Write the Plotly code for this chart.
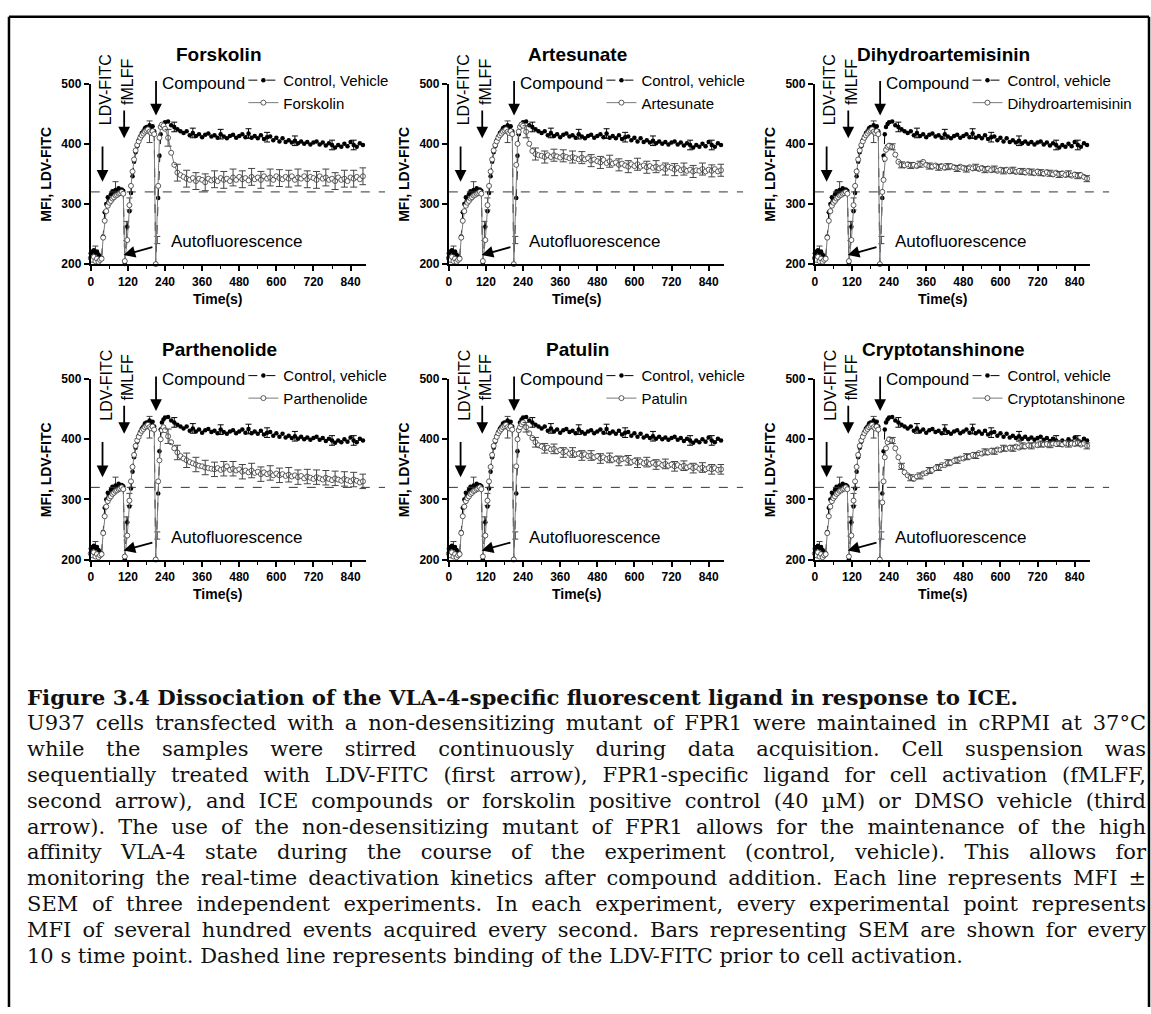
import json
import plotly.graph_objects as go

W, H = 1151, 1014
SANS = "Liberation Sans, Arial, sans-serif"
SERIF = "DejaVu Serif, serif"

# ---------------- data ----------------
compounds = ["Forskolin", "Artesunate", "Dihydroartemisinin",
             "Parthenolide", "Patulin", "Cryptotanshinone"]
control_labels = ["Control, Vehicle", "Control, vehicle", "Control, vehicle",
                  "Control, vehicle", "Control, vehicle", "Control, vehicle"]

pre_t = [0, 5, 10, 15, 20, 25, 30, 35, 40, 45, 50, 55, 60, 65, 70, 75, 80, 85, 90, 95, 100, 105,
         110, 118, 125, 130, 135, 140, 145, 150, 155, 160, 165, 170, 175, 180, 185, 190, 195, 200, 205, 210]
post_t = [218, 222, 226, 230, 235,
          240, 250, 260, 270, 280, 290, 300, 310, 320, 330,
          340, 350, 360, 370, 380, 390, 400, 410, 420, 430,
          440, 450, 460, 470, 480, 490, 500, 510, 520, 530,
          540, 550, 560, 570, 580, 590, 600, 610, 620, 630,
          640, 650, 660, 670, 680, 690, 700, 710, 720, 730,
          740, 750, 760, 770, 780, 790, 800, 810, 820, 830,
          840, 850, 860, 870, 880]

control_pre = [218, 221, 223, 219, 221, 216, 213, 210,
               246, 286, 300, 311, 308, 316, 321, 318, 323, 320, 326, 321, 324, 322,
               200, 262, 288, 318, 346, 370, 386, 396, 406, 412, 418, 421, 426, 428, 424, 431, 426, 429, 421, 200]
control_post = [310, 380, 416, 428, 433,
                436, 437, 431, 428, 424, 421, 418, 421, 414, 418,
                413, 416, 411, 415, 417, 412, 414, 410, 416, 412,
                409, 413, 415, 410, 413, 416, 411, 417, 410, 413,
                409, 414, 408, 411, 412, 406, 410, 404, 409, 403,
                406, 402, 405, 401, 404, 400, 403, 399, 402, 404,
                399, 402, 397, 401, 398, 394, 398, 395, 400, 396,
                403, 398, 395, 401, 398]

treat_pre = [210, 207, 212, 205, 209, 204, 207, 209,
             244, 272, 288, 297, 302, 305, 309, 311, 314, 315, 317, 318, 320, 317,
             205, 240, 298, 330, 354, 374, 389, 398, 404, 410, 414, 417, 420, 422, 424, 420, 418, 421, 416, 200]

forskolin_post = [330, 410, 428, 432, 430,
                  425, 410, 385, 365, 352, 348, 345, 342, 340, 343,
                  338, 342, 340, 336, 342, 339, 341, 338, 343, 340,
                  342, 338, 344, 340, 345, 341, 343, 339, 345, 341,
                  344, 340, 346, 342, 344, 340, 346, 343, 341, 345,
                  342, 346, 340, 344, 342, 346, 341, 345, 343, 340,
                  346, 342, 344, 340, 342, 338, 344, 340, 342, 338,
                  344, 342, 345, 341, 346]
artesunate_post = [365, 400, 420, 428, 432,
                   430, 420, 400, 388, 383, 381, 380, 378, 381, 378,
                   381, 379, 377, 380, 378, 376, 378, 376, 374, 377,
                   374, 376, 372, 374, 371, 369, 373, 368, 371, 367,
                   369, 365, 367, 364, 362, 366, 363, 366, 362, 364,
                   361, 363, 360, 362, 359, 361, 358, 362, 360, 357,
                   360, 356, 358, 355, 357, 354, 356, 355, 358, 354,
                   357, 355, 358, 354, 356]
dha_post = [320, 340, 375, 390, 395,
            397, 395, 382, 370, 365, 364, 366, 364, 365, 363,
            366, 370, 365, 363, 362, 364, 361, 363, 360, 362,
            363, 361, 359, 362, 360, 358, 361, 359, 361, 358,
            360, 357, 359, 356, 358, 355, 357, 355, 357, 354,
            356, 353, 355, 354, 352, 355, 353, 351, 354, 352,
            350, 353, 351, 349, 352, 349, 351, 348, 350, 347,
            349, 347, 348, 345, 342]
parthenolide_post = [330, 365, 400, 415, 420,
                     415, 405, 395, 385, 378, 372, 368, 365, 362, 360,
                     358, 356, 355, 353, 352, 351, 350, 352, 349, 351,
                     355, 349, 351, 348, 350, 346, 348, 345, 348, 344,
                     346, 342, 345, 342, 344, 340, 343, 340, 342, 339,
                     341, 338, 340, 337, 339, 335, 338, 336, 334, 337,
                     335, 333, 336, 334, 332, 335, 333, 331, 334, 332,
                     330, 333, 331, 328, 330]
patulin_post = [355, 400, 415, 420, 425,
                428, 420, 410, 402, 395, 390, 388, 385, 386, 383,
                384, 380, 382, 378, 380, 376, 378, 375, 376, 373,
                375, 372, 373, 370, 372, 368, 370, 367, 369, 366,
                368, 364, 367, 368, 365, 362, 364, 361, 363, 360,
                362, 359, 361, 358, 360, 357, 359, 356, 358, 355,
                357, 354, 356, 353, 355, 352, 354, 351, 353, 350,
                352, 350, 352, 349, 350]
crypto_post = [295, 330, 370, 385, 395,
               400, 398, 385, 370, 355, 345, 340, 336, 334, 338,
               339, 343, 344, 348, 349, 352, 353, 357, 357, 361,
               361, 364, 365, 368, 368, 371, 371, 374, 373, 377,
               376, 379, 378, 381, 380, 383, 382, 385, 384, 386,
               385, 388, 386, 389, 388, 390, 389, 391, 390, 392,
               391, 392, 391, 393, 392, 393, 391, 394, 392, 393,
               392, 394, 391, 393, 389]
treat_posts = [forskolin_post, artesunate_post, dha_post,
               parthenolide_post, patulin_post, crypto_post]

# SEM estimates (error bars every 30 s after compound)
treat_err_t = [250, 280, 310, 340, 370, 400, 430, 460, 490, 520, 550,
               580, 610, 640, 670, 700, 730, 760, 790, 820, 850, 880]
treat_sem = [14, 10, 5, 12, 8, 5]
control_err_t = [270, 330, 420, 510, 570, 660, 780, 850]
control_sem = [8, 8, 8, 8, 8, 8, 8, 8]
pre_err_t = [15, 80, 115, 125, 190, 215]
pre_err_y = [220, 325, 255, 300, 420, 240]
pre_err_s = [10, 12, 16, 10, 18, 6]

baseline_mfi = 320
x_ticks = [0, 120, 240, 360, 480, 600, 720, 840]
x_minor = [60, 180, 300, 420, 540, 660, 780]
y_ticks = [200, 300, 400, 500]

caption_title = "Figure 3.4 Dissociation of the VLA-4-specific fluorescent ligand in response to ICE."
caption_lines = [
    "U937 cells transfected with a non-desensitizing mutant of FPR1 were maintained in cRPMI at 37°C",
    "while the samples were stirred continuously during data acquisition. Cell suspension was",
    "sequentially treated with LDV-FITC (first arrow), FPR1-specific ligand for cell activation (fMLFF,",
    "second arrow), and ICE compounds or forskolin positive control (40 µM) or DMSO vehicle (third",
    "arrow). The use of the non-desensitizing mutant of FPR1 allows for the maintenance of the high",
    "affinity VLA-4 state during the course of the experiment (control, vehicle). This allows for",
    "monitoring the real-time deactivation kinetics after compound addition. Each line represents MFI ±",
    "SEM of three independent experiments. In each experiment, every experimental point represents",
    "MFI of several hundred events acquired every second. Bars representing SEM are shown for every",
    "10 s time point. Dashed line represents binding of the LDV-FITC prior to cell activation.",
]

# ---------------- layout geometry (pixels) ----------------
col_x0 = [88, 447, 814]
col_w = 276
row_top = [77.7, 377.3]   # pixel y of 500
row_h = 183               # pixel height 500 -> 200
X_RANGE = [0, 890]
CAP_LEFT, CAP_RIGHT = 22, 1141
CAP_TITLE_Y, CAP_STEP = 700, 26.2


def paper_x(c, t):
    return (col_x0[c] + (t - X_RANGE[0]) / (X_RANGE[1] - X_RANGE[0]) * col_w) / W


def paper_y(r, v):
    return 1 - (row_top[r] + (500 - v) / 300 * row_h) / H


fig = go.Figure()
layout = dict(width=W, height=H, margin=dict(l=0, r=0, t=0, b=0),
              paper_bgcolor="white", plot_bgcolor="white", showlegend=True)
annotations = []
shapes = []

ctrl_t = pre_t + post_t
ctrl_y = control_pre + control_post

for i, name in enumerate(compounds):
    r, c = divmod(i, 3)
    n = "" if i == 0 else str(i + 1)
    xa, ya = "x" + n, "y" + n
    leg = "legend" + n
    x0 = col_x0[c] / W
    x1 = (col_x0[c] + col_w) / W
    ytop = 1 - row_top[r] / H
    ybot = 1 - (row_top[r] + row_h) / H

    tr_y = treat_pre + treat_posts[i]

    fig.add_trace(go.Scatter(x=pre_err_t, y=pre_err_y, xaxis=xa, yaxis=ya, mode="markers",
                             marker=dict(size=1, opacity=0), showlegend=False, hoverinfo="skip",
                             error_y=dict(type="data", array=pre_err_s, color="#444", thickness=1, width=3)))
    fig.add_trace(go.Scatter(x=ctrl_t, y=ctrl_y, xaxis=xa, yaxis=ya, mode="lines+markers",
                             name=control_labels[i], legend=leg, cliponaxis=False,
                             line=dict(color="black", width=1, dash="dash"),
                             marker=dict(symbol="circle", size=4.5, color="black")))
    lookup_c = dict(zip(ctrl_t, ctrl_y))
    fig.add_trace(go.Scatter(x=control_err_t, y=[lookup_c[t] for t in control_err_t], xaxis=xa, yaxis=ya,
                             mode="markers", marker=dict(size=1, opacity=0), showlegend=False, hoverinfo="skip",
                             error_y=dict(type="data", array=control_sem, color="black", thickness=1, width=3)))
    fig.add_trace(go.Scatter(x=ctrl_t, y=tr_y, xaxis=xa, yaxis=ya, mode="lines+markers",
                             name=name, legend=leg, cliponaxis=False,
                             line=dict(color="#7a7a7a", width=1),
                             marker=dict(symbol="circle", size=5, color="white",
                                         line=dict(color="#333", width=0.8))))
    lookup_t = dict(zip(ctrl_t, tr_y))
    fig.add_trace(go.Scatter(x=treat_err_t, y=[lookup_t[t] for t in treat_err_t], xaxis=xa, yaxis=ya,
                             mode="markers", marker=dict(size=1, opacity=0), showlegend=False, hoverinfo="skip",
                             error_y=dict(type="data", array=[treat_sem[i]] * len(treat_err_t),
                                          color="#444", thickness=1, width=3.5)))

    layout["xaxis" + n] = dict(domain=[x0, x1], range=X_RANGE, anchor=ya, showgrid=False, zeroline=False,
                               showline=True, linecolor="black", linewidth=2,
                               tickvals=x_ticks, ticks="outside", ticklen=5, tickwidth=1.5, tickcolor="black",
                               tickfont=dict(family=SANS, size=12, color="black", weight="bold"),
                               minor=dict(tickvals=x_minor, ticks="outside", ticklen=3, tickwidth=1.2,
                                          tickcolor="black"))
    layout["yaxis" + n] = dict(domain=[ybot, ytop], range=[200, 500], anchor=xa, showgrid=False, zeroline=False,
                               showline=True, linecolor="black", linewidth=2,
                               tickvals=y_ticks, ticks="outside", ticklen=5, tickwidth=1.5, tickcolor="black",
                               tickfont=dict(family=SANS, size=12, color="black", weight="bold"))
    layout[leg] = dict(x=(col_x0[c] + 195 - 42) / W, y=1 - (row_top[r] - 20) / H,
                       xanchor="left", yanchor="top", bgcolor="rgba(0,0,0,0)",
                       font=dict(family=SANS, size=15, color="black"), itemwidth=30,
                       tracegroupgap=0)

    yb = paper_y(r, baseline_mfi)
    shapes.append(dict(type="line", xref="paper", yref="paper", x0=x0, x1=x1 + 19 / W, y0=yb, y1=yb,
                       line=dict(color="#333", width=1, dash="dash")))

    annotations.append(dict(text="<b>%s</b>" % name, xref="paper", yref="paper",
                            x=(col_x0[c] + 129) / W, y=1 - (row_top[r] - 30) / H,
                            showarrow=False, font=dict(family=SANS, size=19, color="black"),
                            xanchor="center", yanchor="middle"))
    annotations.append(dict(text="<b>Time(s)</b>", xref="paper", yref="paper",
                            x=(col_x0[c] + 128) / W, y=1 - (row_top[r] + 218) / H,
                            showarrow=False, font=dict(family=SANS, size=14, color="black"),
                            xanchor="center", yanchor="middle"))
    annotations.append(dict(text="<b>MFI, LDV-FITC</b>", xref="paper", yref="paper",
                            x=(col_x0[c] - 45) / W, y=1 - (row_top[r] + row_h / 2) / H, textangle=-90,
                            showarrow=False, font=dict(family=SANS, size=14, color="black"),
                            xanchor="center", yanchor="middle"))
    # event labels (placed in paper space so they may sit above the plot range)
    annotations.append(dict(text="LDV-FITC", xref="paper", yref="paper", x=paper_x(c, 48), y=paper_y(r, 490),
                            textangle=-90, showarrow=False,
                            font=dict(family=SANS, size=16, color="black"), xanchor="center", yanchor="middle"))
    annotations.append(dict(text="fMLFF", xref="paper", yref="paper", x=paper_x(c, 119), y=paper_y(r, 502),
                            textangle=-90, showarrow=False,
                            font=dict(family=SANS, size=16, color="black"), xanchor="center", yanchor="middle"))
    annotations.append(dict(text="Compound", xref="paper", yref="paper", x=paper_x(c, 224), y=paper_y(r, 500),
                            showarrow=False,
                            font=dict(family=SANS, size=17, color="black"), xanchor="left", yanchor="middle"))
    annotations.append(dict(text="Autofluorescence", xref="paper", yref="paper", x=paper_x(c, 253),
                            y=paper_y(r, 237), showarrow=False,
                            font=dict(family=SANS, size=17, color="black"), xanchor="left", yanchor="middle"))
    for (tx, ty, ax, ay) in [(38, 337, 38, 398), (108, 409, 108, 458), (211, 447, 211, 507), (106, 215, 204, 229)]:
        annotations.append(dict(text="", xref=xa, yref=ya, x=tx, y=ty, axref=xa, ayref=ya, ax=ax, ay=ay,
                                showarrow=True, arrowhead=2, arrowsize=1.3, arrowwidth=1.8,
                                arrowcolor="black", standoff=0, startstandoff=0))

# caption
annotations.append(dict(text="<b>%s</b>" % caption_title, xref="paper", yref="paper",
                        x=CAP_LEFT / W, y=1 - CAP_TITLE_Y / H,
                        showarrow=False, xanchor="left", yanchor="middle", align="left",
                        font=dict(family=SERIF, size=21.3, color="#111")))
justify_idx = []
for k, line in enumerate(caption_lines):
    if k < len(caption_lines) - 1:
        justify_idx.append(len(annotations))
    annotations.append(dict(text=line, xref="paper", yref="paper", x=CAP_LEFT / W,
                            y=1 - (CAP_TITLE_Y + CAP_STEP * (k + 1)) / H,
                            showarrow=False, xanchor="left", yanchor="middle", align="left",
                            font=dict(family=SERIF, size=21, color="#111")))

# frame
for (a0, b0, a1, b1) in [(6, 10, 1149, 10), (6, 10, 6, 1014), (1149, 10, 1149, 1014)]:
    shapes.append(dict(type="line", xref="paper", yref="paper", x0=a0 / W, x1=a1 / W,
                       y0=1 - b0 / H, y1=1 - b1 / H, line=dict(color="black", width=2.5)))

layout["annotations"] = annotations
layout["shapes"] = shapes
fig.update_layout(**layout)

post_js = """
document.body.style.margin = '0';
document.body.style.padding = '0';
(function(){
  var gd = document.getElementById('{plot_id}');
  var idx = IDX;
  var target = TARGET;
  function justify(){
    idx.forEach(function(k){
      var g = gd.querySelector('g.annotation[data-index="' + k + '"]');
      if(!g) return;
      var t = g.querySelector('text');
      if(!t) return;
      t.style.wordSpacing = '0px';
      var w = t.getComputedTextLength();
      var n = (t.textContent.match(/ /g) || []).length;
      if(n > 0 && w < target){
        t.style.wordSpacing = ((target - w) / n) + 'px';
        var w2 = t.getComputedTextLength();
        if(Math.abs(w2 - w) < 1){
          t.style.wordSpacing = '0px';
          t.setAttribute('textLength', target);
          t.setAttribute('lengthAdjust', 'spacing');
        }
      }
    });
  }
  if(document.fonts && document.fonts.ready){ document.fonts.ready.then(justify); } else { justify(); }
})();
""".replace("IDX", json.dumps(justify_idx)).replace("TARGET", str(CAP_RIGHT - CAP_LEFT))

fig.write_html("out.html", post_script=post_js, config={"displayModeBar": False})
